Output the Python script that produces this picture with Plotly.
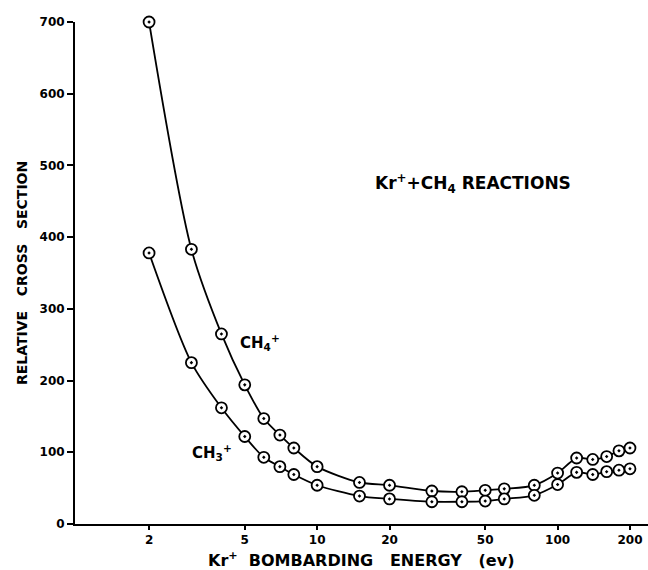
import plotly.graph_objects as go

# Kr+ bombarding energy (eV)
energy_ch4 = [2, 3, 4, 5, 6, 7, 8, 10, 15, 20, 30, 40, 50, 60, 80, 100, 120, 140, 160, 180, 200]
ch4_plus = [700, 383, 265, 194, 147, 124, 106, 80, 58, 54, 46, 45, 47, 49, 54, 71, 92, 90, 94, 102, 106]

energy_ch3 = [2, 3, 4, 5, 6, 7, 8, 10, 15, 20, 30, 40, 50, 60, 80, 100, 120, 140, 160, 180, 200]
ch3_plus = [378, 225, 162, 122, 93, 80, 69, 54, 39, 35, 31, 31, 32, 35, 40, 55, 72, 69, 73, 75, 77]

x_tickvals = [2, 5, 10, 20, 50, 100, 200]
x_ticktext = ["2", "5", "10", "20", "50", "100", "200"]
y_tickvals = [0, 100, 200, 300, 400, 500, 600, 700]

FONT = "DejaVu Sans"
NB = "\u00a0"

fig = go.Figure()
for xs, ys in [(energy_ch4, ch4_plus), (energy_ch3, ch3_plus)]:
    fig.add_trace(go.Scatter(
        x=xs, y=ys, mode="lines+markers",
        line=dict(color="black", width=1.8, shape="spline", smoothing=0.8),
        marker=dict(symbol="circle-dot", size=11, color="white",
                    line=dict(color="black", width=1.8)),
        cliponaxis=False, showlegend=False, hoverinfo="x+y",
    ))

fig.update_layout(
    width=648, height=570,
    margin=dict(l=75, r=0, t=22, b=46),
    paper_bgcolor="white", plot_bgcolor="white",
    font=dict(family=FONT, color="black", size=12),
    xaxis=dict(type="log", range=[-0.007, 2.376],
               tickvals=x_tickvals, ticktext=[f"<b>{t}</b>" for t in x_ticktext],
               ticks="outside", ticklen=4, tickwidth=1.5, tickcolor="black",
               showline=True, linecolor="black", linewidth=2,
               showgrid=False, zeroline=False,
               tickfont=dict(family=FONT, size=12, color="black")),
    yaxis=dict(range=[0, 700], tickvals=y_tickvals,
               ticktext=[f"<b>{v}</b>" for v in y_tickvals],
               ticks="outside", ticklen=6, tickwidth=1.5, tickcolor="black",
               showline=True, linecolor="black", linewidth=2,
               showgrid=False, zeroline=False,
               tickfont=dict(family=FONT, size=12, color="black")),
)

annotations = [
    dict(text=f"<b>Kr<sup>+</sup>{NB}{NB}BOMBARDING{NB}{NB}{NB}ENERGY{NB}{NB}{NB}(ev)</b>",
         xref="paper", yref="paper", x=0.499, y=-0.07, xanchor="center", yanchor="middle",
         showarrow=False, font=dict(family=FONT, size=16)),
    dict(text=f"<b>RELATIVE{NB}{NB}{NB}CROSS{NB}{NB}{NB}SECTION</b>",
         xref="paper", yref="paper", x=-0.0925, y=0.5, xanchor="center", yanchor="middle",
         textangle=-90, showarrow=False, font=dict(family=FONT, size=14)),
    dict(text="<b>Kr<sup>+</sup>+CH<sub>4</sub> REACTIONS</b>",
         xref="paper", yref="paper", x=0.52, y=0.679, xanchor="left", yanchor="middle",
         showarrow=False, font=dict(family=FONT, size=17)),
    dict(text="<b>CH<sub>4</sub><sup>+</sup></b>",
         xref="paper", yref="paper", x=0.323, y=0.361, xanchor="center", yanchor="middle",
         showarrow=False, font=dict(family=FONT, size=15)),
    dict(text="<b>CH<sub>3</sub><sup>+</sup></b>",
         xref="paper", yref="paper", x=0.239, y=0.143, xanchor="center", yanchor="middle",
         showarrow=False, font=dict(family=FONT, size=15)),
]
fig.update_layout(annotations=annotations)

fig.write_html(
    "out.html",
    config={"displayModeBar": False},
    post_script="document.body.style.margin='0';document.body.style.overflow='hidden';",
)
